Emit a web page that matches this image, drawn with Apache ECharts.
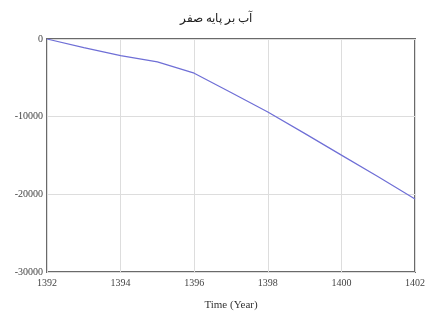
<!DOCTYPE html>
<html><head><meta charset="utf-8">
<script src="https://cdn.jsdelivr.net/npm/echarts@6/dist/echarts.min.js"></script>
<style>html,body{margin:0;padding:0;background:#fff}#c{width:431px;height:321px}</style>
</head><body><div id="c"></div>
<script>
const titleText = 'آب بر پایه صفر';
const xName = 'Time (Year)';
const years = [1392,1393,1394,1395,1396,1397,1398,1399,1400,1401,1402];
const values = [0,-1100,-2150,-2950,-4400,-6900,-9400,-12150,-14950,-17750,-20600];

const chart = echarts.init(document.getElementById('c'));
chart.setOption({
  animation:false,
  title:{text:titleText,left:'center',top:8,textStyle:{fontFamily:'Liberation Serif, DejaVu Serif',fontSize:12,fontWeight:'normal',color:'#222'}},
  grid:{left:47,right:16,top:39,bottom:49,show:true,borderColor:'#6a6a6a',borderWidth:2,backgroundColor:'transparent'},
  xAxis:{type:'value',min:1392,max:1402,interval:2,name:xName,nameLocation:'middle',nameGap:28,
    nameTextStyle:{fontFamily:'Liberation Serif',fontSize:11,color:'#333'},
    axisLine:{show:false},axisTick:{show:false},
    axisLabel:{fontFamily:'Liberation Serif',fontSize:10,color:'#444',margin:6,formatter:v=>String(v)},
    splitLine:{show:true,lineStyle:{color:'#dddddd',width:1}}},
  yAxis:{type:'value',min:-30000,max:0,interval:10000,
    axisLine:{show:false},axisTick:{show:false},
    axisLabel:{fontFamily:'Liberation Serif',fontSize:10,color:'#444',margin:4,formatter:v=>String(v)},
    splitLine:{show:true,lineStyle:{color:'#dddddd',width:1}}},
  series:[{type:'line',data:years.map((y,i)=>[y,values[i]]),showSymbol:false,
    lineStyle:{color:'#6f6fd6',width:1.2}}]
});
</script></body></html>
